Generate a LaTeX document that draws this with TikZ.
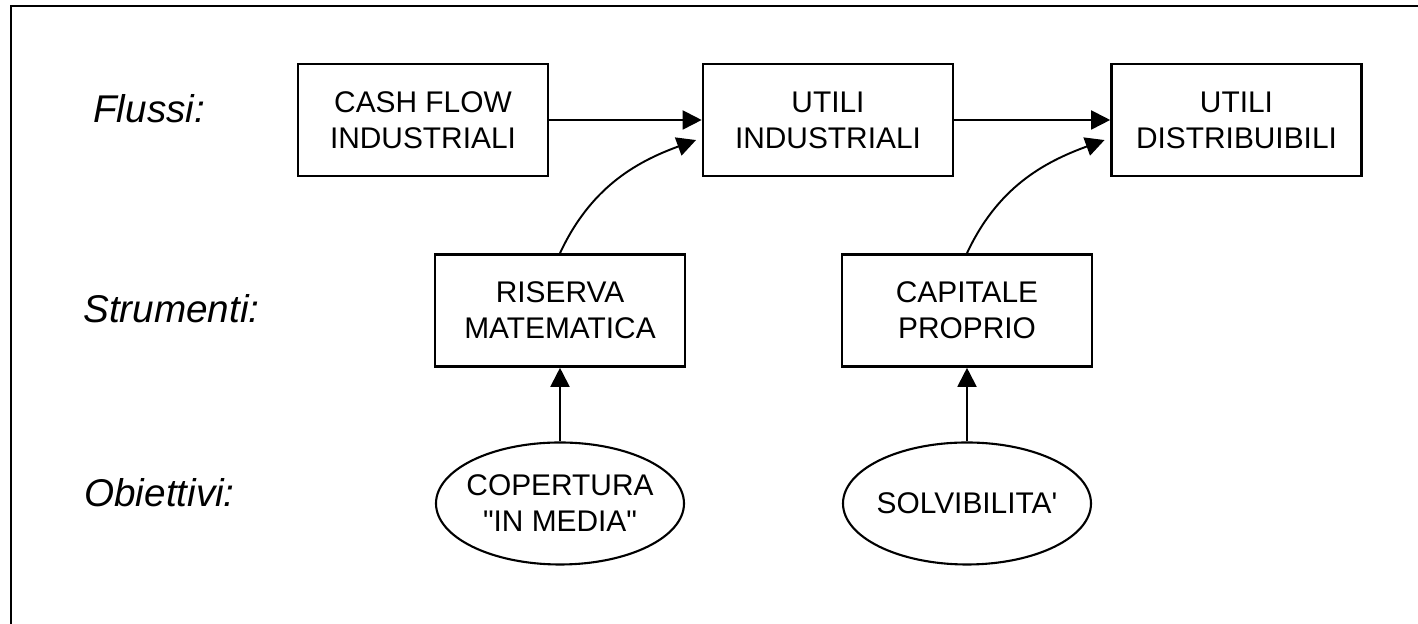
\documentclass[tikz,border=0pt]{standalone}
\usepackage{fontspec}
\setmainfont{Liberation Sans}[Ligatures=TeXOff]
\usepackage{tikz}
\usetikzlibrary{shapes.geometric, arrows.meta}

\begin{document}
\begin{tikzpicture}[
  flowbox/.style={draw, line width=1.5pt, minimum width=5cm, minimum height=2.24cm, inner sep=0pt, align=center, font=\fontsize{17}{20.5}\selectfont},
  goalell/.style={flowbox, ellipse, line width=1.2pt, inner xsep=-0.9cm, inner ysep=-0.4cm, minimum width=4.96cm, minimum height=2.44cm},
  lbl/.style={anchor=base west, inner sep=0pt, font=\fontsize{22}{26}\selectfont\itshape},
  arr/.style={-{Triangle[length=0.38cm, width=0.38cm]}, line width=1.1pt}
]
\clip (0,0) rectangle (28.36,12.48);

% outer frame
\draw[line width=1.1pt] (0.22,-1) |- (30,12.36);

% row labels
\node[lbl] (flussi) at (1.86,10.02) {Flussi:};
\node[lbl] (strumenti) at (1.66,6.02) {Strumenti:};
\node[lbl] (obiettivi) at (1.68,2.34) {Obiettivi:};

% flussi
\node[flowbox] (cashflow) at (8.46,10.08) {CASH FLOW\\INDUSTRIALI};
\node[flowbox] (utilind) at (16.56,10.08) {UTILI\\INDUSTRIALI};
\node[flowbox] (utildist) at (24.73,10.08) {UTILI\\DISTRIBUIBILI};

% strumenti
\node[flowbox] (riserva) at (11.2,6.27) {RISERVA\\MATEMATICA};
\node[flowbox] (capitale) at (19.34,6.27) {CAPITALE\\PROPRIO};

% obiettivi
\node[goalell] (copertura) at (11.2,2.41) {COPERTURA\\"IN MEDIA"};
\node[goalell] (solvib) at (19.34,2.41) {SOLVIBILITA'};

\draw[arr] (cashflow) -- (utilind);
\draw[arr] (utilind) -- (utildist);
\draw[arr, shorten >=0.12cm] (riserva.north) to[out=65, in=200] ([yshift=-0.36cm]utilind.west);
\draw[arr, shorten >=0.12cm] (capitale.north) to[out=65, in=200] ([yshift=-0.36cm]utildist.west);
\draw[arr] (copertura) -- (riserva);
\draw[arr] (solvib) -- (capitale);

\end{tikzpicture}
\end{document}
